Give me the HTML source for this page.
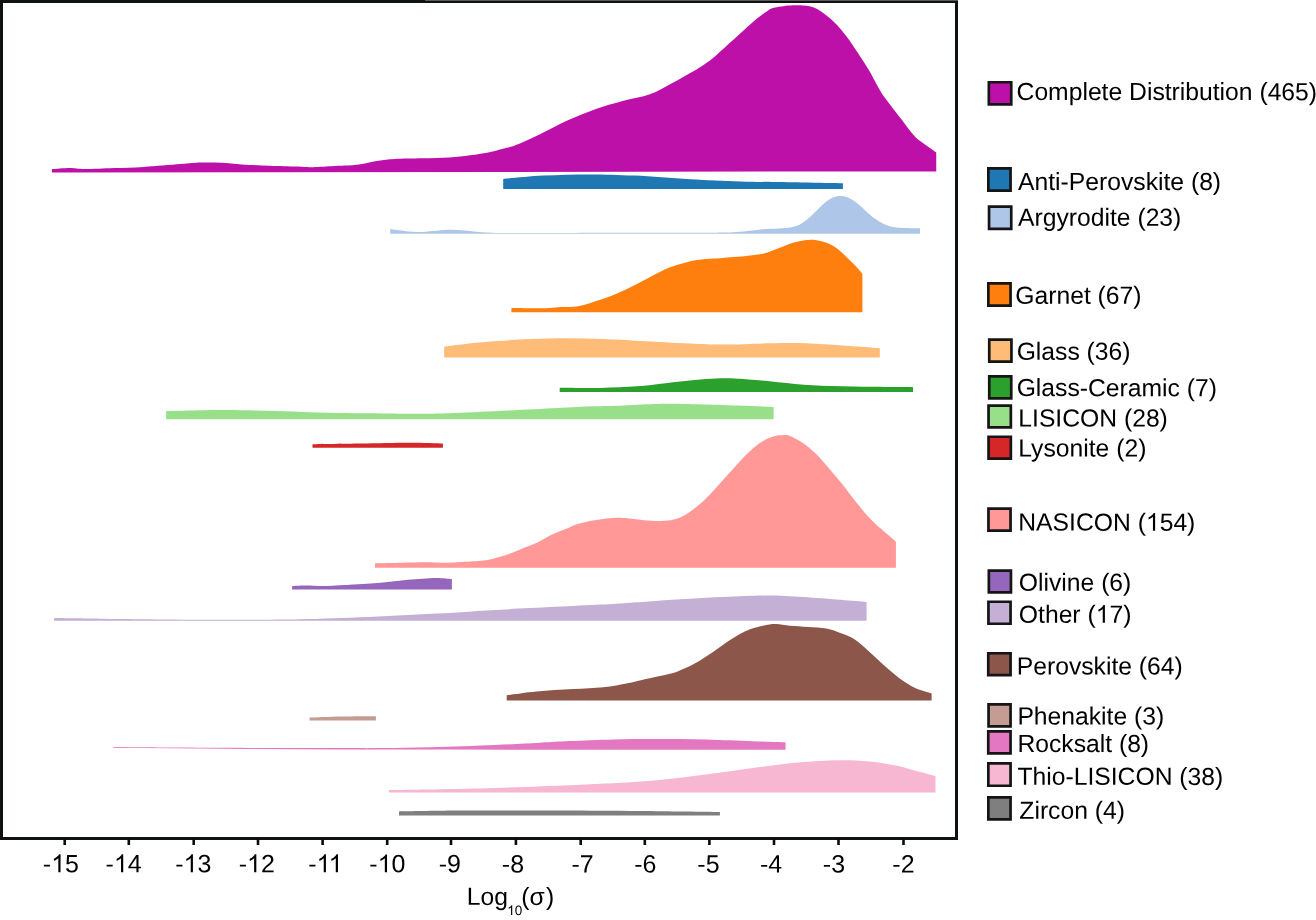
<!DOCTYPE html>
<html><head><meta charset="utf-8"><style>
html,body{margin:0;padding:0;background:#fff;}
body{width:1316px;height:920px;overflow:hidden;}
svg{display:block;will-change:transform;}
text{font-family:"Liberation Sans",sans-serif;fill:#000;}
</style></head><body>
<svg width="1316" height="920" viewBox="0 0 1316 920">
<rect width="1316" height="920" fill="#fff"/>
<path fill="#bd10a9" d="M51.90,172.50 L51.90,169.30 C54.87,169.10 64.27,168.13 69.70,168.10 C75.13,168.07 77.10,169.10 84.50,169.10 C91.90,169.10 104.22,168.47 114.10,168.10 C123.98,167.73 132.73,167.57 143.80,166.90 C154.87,166.23 170.97,164.83 180.50,164.10 C190.03,163.37 194.15,162.72 201.00,162.50 C207.85,162.28 214.75,162.48 221.60,162.80 C228.45,163.12 234.13,163.90 242.10,164.40 C250.07,164.90 260.28,165.43 269.40,165.80 C278.52,166.17 289.95,166.37 296.80,166.60 C303.65,166.83 304.80,167.27 310.50,167.20 C316.20,167.13 325.25,166.47 331.00,166.20 C336.75,165.93 340.08,165.93 345.00,165.60 C349.92,165.27 354.95,165.00 360.50,164.20 C366.05,163.40 372.60,161.67 378.30,160.80 C384.00,159.93 387.40,159.42 394.70,159.00 C402.00,158.58 412.98,158.57 422.10,158.30 C431.22,158.03 441.43,157.90 449.40,157.40 C457.37,156.90 463.05,156.22 469.90,155.30 C476.75,154.38 484.33,153.15 490.50,151.90 C496.67,150.65 501.98,149.22 506.90,147.80 C511.82,146.38 514.40,145.72 520.00,143.40 C525.60,141.08 532.52,137.77 540.50,133.90 C548.48,130.03 558.78,124.32 567.90,120.20 C577.02,116.08 586.08,112.40 595.20,109.20 C604.32,106.00 613.48,103.50 622.60,101.00 C631.72,98.50 641.92,97.05 649.90,94.20 C657.88,91.35 664.80,86.87 670.50,83.90 C676.20,80.93 679.18,79.18 684.10,76.40 C689.02,73.62 695.07,70.37 700.00,67.20 C704.93,64.03 709.13,61.08 713.70,57.40 C718.27,53.72 722.85,49.20 727.40,45.10 C731.95,41.00 736.45,36.90 741.00,32.80 C745.55,28.70 750.13,24.25 754.70,20.50 C759.27,16.75 764.98,12.47 768.40,10.30 C771.82,8.13 771.10,8.35 775.20,7.50 C779.30,6.65 787.30,5.42 793.00,5.20 C798.70,4.98 804.83,5.25 809.40,6.20 C813.97,7.15 816.30,8.28 820.40,10.90 C824.50,13.52 829.67,17.68 834.00,21.90 C838.33,26.12 842.52,31.18 846.40,36.20 C850.28,41.22 853.62,46.45 857.30,52.00 C860.98,57.55 865.55,64.62 868.50,69.50 C871.45,74.38 872.88,77.42 875.00,81.25 C877.12,85.08 879.17,89.17 881.25,92.50 C883.33,95.83 884.38,97.08 887.50,101.25 C890.62,105.42 895.83,112.08 900.00,117.50 C904.17,122.92 909.38,130.00 912.50,133.75 C915.62,137.50 916.25,137.92 918.75,140.00 C921.25,142.08 924.58,144.17 927.50,146.25 C930.42,148.33 934.79,151.46 936.25,152.50 L936.25,171.40 Z"/>
<path fill="#1f77b4" d="M503.20,188.90 L503.20,179.00 C509.87,178.43 528.68,176.37 543.20,175.60 C557.72,174.83 575.10,174.40 590.30,174.40 C605.50,174.40 617.78,174.78 634.40,175.60 C651.02,176.42 672.27,178.33 690.00,179.30 C707.73,180.27 722.20,180.87 740.80,181.40 C759.40,181.93 784.58,182.20 801.60,182.50 C818.62,182.80 836.02,183.08 842.90,183.20 L842.90,188.90 Z"/>
<path fill="#aec7e8" d="M390.20,233.80 L390.20,229.10 C394.58,229.58 406.03,231.90 416.50,232.00 C426.97,232.10 441.35,229.62 453.00,229.70 C464.65,229.78 475.23,231.97 486.40,232.50 C497.57,233.03 484.40,232.85 520.00,232.90 C555.60,232.95 663.92,232.93 700.00,232.80 C736.08,232.67 725.87,232.68 736.50,232.10 C747.13,231.52 754.68,230.10 763.80,229.30 C772.92,228.50 784.20,228.75 791.20,227.30 C798.20,225.85 799.72,225.07 805.80,220.60 C811.88,216.13 821.78,204.62 827.70,200.50 C833.62,196.38 836.75,195.75 841.30,195.90 C845.85,196.05 849.37,197.60 855.00,201.40 C860.63,205.20 868.72,214.43 875.10,218.70 C881.48,222.97 885.82,225.42 893.30,227.00 C900.78,228.58 915.55,228.00 920.00,228.20 L920.00,233.80 Z"/>
<path fill="#ff7f0e" d="M511.40,312.20 L511.40,308.00 C517.10,308.05 537.50,308.45 545.60,308.30 C553.70,308.15 554.57,307.45 560.00,307.10 C565.43,306.75 572.12,307.20 578.20,306.20 C584.28,305.20 590.42,303.07 596.50,301.10 C602.58,299.13 608.62,296.93 614.70,294.40 C620.78,291.87 626.92,288.88 633.00,285.90 C639.08,282.92 645.13,279.55 651.20,276.50 C657.27,273.45 663.32,270.03 669.40,267.60 C675.48,265.17 681.62,263.32 687.70,261.90 C693.78,260.48 700.52,259.70 705.90,259.10 C711.28,258.50 715.98,258.60 720.00,258.30 C724.02,258.00 725.67,257.70 730.00,257.30 C734.33,256.90 740.68,256.43 746.00,255.90 C751.32,255.37 757.47,254.98 761.90,254.10 C766.33,253.22 769.05,251.88 772.60,250.60 C776.15,249.32 779.67,247.73 783.20,246.40 C786.73,245.07 790.25,243.62 793.80,242.60 C797.35,241.58 800.95,240.73 804.50,240.30 C808.05,239.87 811.57,239.62 815.10,240.00 C818.63,240.38 822.15,241.27 825.70,242.60 C829.25,243.93 832.85,245.52 836.40,248.00 C839.95,250.48 843.45,254.13 847.00,257.50 C850.55,260.87 855.13,265.45 857.70,268.20 C860.27,270.95 861.62,273.03 862.40,274.00 L862.40,312.20 Z"/>
<path fill="#ffbb78" d="M444.20,357.40 L444.20,346.40 C450.95,345.65 470.35,343.12 484.70,341.90 C499.05,340.68 516.62,339.72 530.30,339.10 C543.98,338.48 554.63,338.20 566.80,338.20 C578.97,338.20 591.15,338.63 603.30,339.10 C615.45,339.57 625.25,340.27 639.70,341.00 C654.15,341.73 675.98,342.90 690.00,343.50 C704.02,344.10 710.57,344.63 723.80,344.60 C737.03,344.57 755.72,343.52 769.40,343.30 C783.08,343.08 793.73,342.93 805.90,343.30 C818.07,343.67 830.08,344.68 842.40,345.50 C854.72,346.32 873.57,347.75 879.80,348.20 L879.80,357.40 Z"/>
<path fill="#2ca02c" d="M559.70,392.00 L559.70,387.80 C566.50,387.82 587.68,388.15 600.50,387.90 C613.32,387.65 625.77,387.08 636.60,386.30 C647.43,385.52 655.87,384.25 665.50,383.20 C675.13,382.15 685.98,380.80 694.40,380.00 C702.82,379.20 709.23,378.67 716.00,378.40 C722.77,378.13 727.85,378.08 735.00,378.40 C742.15,378.72 748.90,379.38 758.90,380.30 C768.90,381.22 782.97,382.95 795.00,383.90 C807.03,384.85 817.87,385.52 831.10,386.00 C844.33,386.48 860.73,386.60 874.40,386.80 C888.07,387.00 906.65,387.13 913.10,387.20 L913.10,392.00 Z"/>
<path fill="#98df8a" d="M166.20,419.20 L166.20,411.00 C172.43,410.87 191.28,410.33 203.60,410.20 C215.92,410.07 227.93,410.07 240.10,410.20 C252.27,410.33 264.95,410.67 276.60,411.00 C288.25,411.33 298.35,411.87 310.00,412.20 C321.65,412.53 334.33,412.80 346.50,413.00 C358.67,413.20 369.83,413.27 383.00,413.40 C396.17,413.53 413.50,413.85 425.50,413.80 C437.50,413.75 441.15,413.63 455.00,413.10 C468.85,412.57 491.55,411.43 508.60,410.60 C525.65,409.77 543.12,408.82 557.30,408.10 C571.48,407.38 583.25,406.70 593.70,406.30 C604.15,405.90 609.98,406.08 620.00,405.70 C630.02,405.32 644.95,404.33 653.80,404.00 C662.65,403.67 665.57,403.65 673.10,403.70 C680.63,403.75 688.23,403.98 699.00,404.30 C709.77,404.62 725.27,405.15 737.70,405.60 C750.13,406.05 767.62,406.77 773.60,407.00 L773.60,419.20 Z"/>
<path fill="#d62728" d="M312.50,447.80 L312.50,444.20 C320.55,444.08 344.65,443.75 360.80,443.50 C376.95,443.25 395.72,442.70 409.40,442.70 C423.08,442.70 437.32,443.37 442.90,443.50 L442.90,447.80 Z"/>
<path fill="#ff9896" d="M375.00,567.80 L375.00,563.30 C379.73,563.20 395.18,562.88 403.40,562.70 C411.62,562.52 417.32,562.20 424.30,562.20 C431.28,562.20 439.02,562.75 445.30,562.70 C451.58,562.65 455.60,562.27 462.00,561.90 C468.40,561.53 477.80,561.25 483.70,560.50 C489.60,559.75 492.85,558.60 497.40,557.40 C501.95,556.20 506.45,554.93 511.00,553.30 C515.55,551.67 520.13,549.50 524.70,547.60 C529.27,545.70 533.83,544.07 538.40,541.90 C542.97,539.73 547.55,536.73 552.10,534.60 C556.65,532.47 561.45,530.85 565.70,529.10 C569.95,527.35 573.55,525.47 577.60,524.10 C581.65,522.73 586.27,521.68 590.00,520.90 C593.73,520.12 596.17,519.88 600.00,519.40 C603.83,518.92 608.82,518.22 613.00,518.00 C617.18,517.78 620.05,517.73 625.10,518.10 C630.15,518.47 637.22,519.72 643.30,520.20 C649.38,520.68 656.53,521.10 661.60,521.00 C666.67,520.90 669.65,520.68 673.70,519.60 C677.75,518.52 681.42,517.18 685.90,514.50 C690.38,511.82 696.37,507.10 700.60,503.50 C704.83,499.90 707.75,496.62 711.30,492.90 C714.85,489.18 718.35,485.10 721.90,481.20 C725.45,477.30 729.05,473.40 732.60,469.50 C736.15,465.60 739.67,461.43 743.20,457.80 C746.73,454.17 750.25,450.63 753.80,447.70 C757.35,444.77 760.95,442.15 764.50,440.20 C768.05,438.25 772.08,436.83 775.10,436.00 C778.12,435.17 780.12,435.22 782.60,435.20 C785.08,435.18 786.60,434.60 790.00,435.90 C793.40,437.20 798.65,439.97 803.00,443.00 C807.35,446.03 811.75,449.85 816.10,454.10 C820.45,458.35 824.75,463.50 829.10,468.50 C833.45,473.50 837.85,478.67 842.20,484.10 C846.55,489.53 850.85,495.67 855.20,501.10 C859.55,506.53 863.95,512.03 868.30,516.70 C872.65,521.37 876.70,524.97 881.30,529.10 C885.90,533.23 893.47,539.43 895.90,541.50 L895.90,567.80 Z"/>
<path fill="#9467bd" d="M292.10,589.60 L292.10,586.00 C294.33,585.92 299.85,585.50 305.50,585.50 C311.15,585.50 318.02,586.15 326.00,586.00 C333.98,585.85 344.28,585.15 353.40,584.60 C362.52,584.05 371.58,583.50 380.70,582.70 C389.82,581.90 398.97,580.60 408.10,579.80 C417.23,579.00 428.20,578.03 435.50,577.90 C442.80,577.77 449.17,578.82 451.90,579.00 L451.90,589.60 Z"/>
<path fill="#c5b0d5" d="M54.10,620.80 L54.10,618.10 C61.75,618.20 85.35,618.52 100.00,618.70 C114.65,618.88 124.50,619.02 142.00,619.20 C159.50,619.38 187.00,619.72 205.00,619.80 C223.00,619.88 234.17,619.80 250.00,619.70 C265.83,619.60 280.27,619.67 300.00,619.20 C319.73,618.73 345.60,617.85 368.40,616.90 C391.20,615.95 414.00,614.75 436.80,613.50 C459.60,612.25 478.00,610.88 505.20,609.40 C532.40,607.92 574.85,606.02 600.00,604.60 C625.15,603.18 635.73,602.15 656.10,600.90 C676.47,599.65 703.10,597.98 722.20,597.10 C741.30,596.22 756.00,595.52 770.70,595.60 C785.40,595.68 794.42,596.53 810.40,597.60 C826.38,598.67 857.23,601.27 866.60,602.00 L866.60,620.80 Z"/>
<path fill="#8c564b" d="M506.70,700.50 L506.70,695.30 C511.67,694.67 525.45,692.53 536.50,691.50 C547.55,690.47 561.87,689.82 573.00,689.10 C584.13,688.38 594.18,688.18 603.30,687.20 C612.42,686.22 620.60,684.57 627.70,683.20 C634.80,681.83 640.52,680.22 645.90,679.00 C651.28,677.78 654.90,677.08 660.00,675.90 C665.10,674.72 670.72,673.95 676.50,671.90 C682.28,669.85 688.62,666.90 694.70,663.60 C700.78,660.30 706.92,656.15 713.00,652.10 C719.08,648.05 725.13,643.05 731.20,639.30 C737.27,635.55 743.32,632.03 749.40,629.60 C755.48,627.17 763.23,625.62 767.70,624.70 C772.17,623.78 772.48,623.93 776.20,624.10 C779.92,624.27 784.67,625.23 790.00,625.70 C795.33,626.17 802.12,626.45 808.20,626.90 C814.28,627.35 821.02,627.35 826.50,628.40 C831.98,629.45 836.45,631.38 841.10,633.20 C845.75,635.02 849.75,636.25 854.40,639.30 C859.05,642.35 863.93,647.03 869.00,651.50 C874.07,655.97 879.73,661.65 884.80,666.10 C889.87,670.55 894.33,674.55 899.40,678.20 C904.47,681.85 909.83,685.47 915.20,688.00 C920.57,690.53 928.87,692.50 931.60,693.40 L931.60,700.50 Z"/>
<path fill="#c49c94" d="M309.60,720.40 L309.60,717.60 C314.83,717.42 329.95,716.73 341.00,716.50 C352.05,716.27 370.08,716.25 375.90,716.20 L375.90,720.40 Z"/>
<path fill="#e377c2" d="M113,747.0 C122.83,747.08 149.17,747.35 172.00,747.50 C194.83,747.65 222.00,747.80 250.00,747.90 C278.00,748.00 318.33,748.07 340.00,748.10 C361.67,748.13 364.80,748.25 380.00,748.10 C395.20,747.95 412.03,747.72 431.20,747.20 C450.37,746.68 476.87,745.75 495.00,745.00 C513.13,744.25 527.50,743.35 540.00,742.70 C552.50,742.05 557.72,741.65 570.00,741.10 C582.28,740.55 597.68,739.75 613.70,739.40 C629.72,739.05 648.62,738.92 666.10,739.00 C683.58,739.08 702.58,739.48 718.60,739.90 C734.62,740.32 751.05,741.10 762.20,741.50 C773.35,741.90 781.62,742.17 785.50,742.30 L785.5,749.8 L450,749.6 L340,749.5 L250,749.0 L172,748.3 L113,747.7 Z"/>
<path fill="#f7b6d2" d="M388.80,792.50 L388.80,790.20 C399.50,790.02 430.15,789.65 453.00,789.10 C475.85,788.55 504.63,787.63 525.90,786.90 C547.17,786.17 568.25,785.23 580.60,784.70 C592.95,784.17 592.20,784.08 600.00,783.70 C607.80,783.32 618.28,782.92 627.40,782.40 C636.52,781.88 645.58,781.40 654.70,780.60 C663.82,779.80 672.98,778.68 682.10,777.60 C691.22,776.52 700.28,775.32 709.40,774.10 C718.52,772.88 727.68,771.55 736.80,770.30 C745.92,769.05 756.90,767.55 764.10,766.60 C771.30,765.65 773.85,765.32 780.00,764.60 C786.15,763.88 791.12,763.02 801.00,762.30 C810.88,761.58 827.90,760.42 839.30,760.30 C850.70,760.18 859.82,760.70 869.40,761.60 C878.98,762.50 888.82,764.10 896.80,765.70 C904.78,767.30 910.85,769.48 917.30,771.20 C923.75,772.92 932.47,775.20 935.50,776.00 L935.50,792.50 Z"/>
<path fill="#7f7f7f" d="M399.00,815.60 L399.00,811.40 C408.92,811.25 431.67,810.65 458.50,810.50 C485.33,810.35 529.75,810.42 560.00,810.50 C590.25,810.58 613.35,810.75 640.00,811.00 C666.65,811.25 706.58,811.83 719.90,812.00 L719.90,815.60 Z"/>
<!-- frame -->
<rect x="1.5" y="1.5" width="955" height="837" fill="none" stroke="#0f1212" stroke-width="3"/>
<rect x="425" y="0" width="533" height="1" fill="#5a5a5a"/>
<rect x="63.40" y="839" width="2.6" height="6" fill="#0a0c0c"/>
<rect x="127.50" y="839" width="2.6" height="6" fill="#0a0c0c"/>
<rect x="192.40" y="839" width="2.6" height="6" fill="#0a0c0c"/>
<rect x="256.70" y="839" width="2.6" height="6" fill="#0a0c0c"/>
<rect x="321.30" y="839" width="2.6" height="6" fill="#0a0c0c"/>
<rect x="385.90" y="839" width="2.6" height="6" fill="#0a0c0c"/>
<rect x="449.70" y="839" width="2.6" height="6" fill="#0a0c0c"/>
<rect x="514.60" y="839" width="2.6" height="6" fill="#0a0c0c"/>
<rect x="579.40" y="839" width="2.6" height="6" fill="#0a0c0c"/>
<rect x="643.50" y="839" width="2.6" height="6" fill="#0a0c0c"/>
<rect x="708.10" y="839" width="2.6" height="6" fill="#0a0c0c"/>
<rect x="772.70" y="839" width="2.6" height="6" fill="#0a0c0c"/>
<rect x="837.20" y="839" width="2.6" height="6" fill="#0a0c0c"/>
<rect x="902.20" y="839" width="2.6" height="6" fill="#0a0c0c"/>
<g font-size="25.0" transform="matrix(1,0.0005,0,1,0,-0.2400)">
<text x="42.89 65.12" y="872.40" font-size="25.0">-5</text><path fill="#000" transform="translate(51.21,872.40) scale(0.012207,-0.012207)" d="M763,0 L583,0 L583,1147 Q518,1085 412,1023 Q306,961 222,930 L222,1104 Q373,1175 486,1276 Q599,1377 646,1472 L763,1472 Z"/>
<text x="105.59 127.82" y="872.40" font-size="25.0">-4</text><path fill="#000" transform="translate(113.91,872.40) scale(0.012207,-0.012207)" d="M763,0 L583,0 L583,1147 Q518,1085 412,1023 Q306,961 222,930 L222,1104 Q373,1175 486,1276 Q599,1377 646,1472 L763,1472 Z"/>
<text x="175.29 197.52" y="872.40" font-size="25.0">-3</text><path fill="#000" transform="translate(183.61,872.40) scale(0.012207,-0.012207)" d="M763,0 L583,0 L583,1147 Q518,1085 412,1023 Q306,961 222,930 L222,1104 Q373,1175 486,1276 Q599,1377 646,1472 L763,1472 Z"/>
<text x="238.69 260.92" y="872.40" font-size="25.0">-2</text><path fill="#000" transform="translate(247.01,872.40) scale(0.012207,-0.012207)" d="M763,0 L583,0 L583,1147 Q518,1085 412,1023 Q306,961 222,930 L222,1104 Q373,1175 486,1276 Q599,1377 646,1472 L763,1472 Z"/>
<text x="308.29" y="872.40" font-size="25.0">-</text><path fill="#000" transform="translate(316.61,872.40) scale(0.012207,-0.012207)" d="M763,0 L583,0 L583,1147 Q518,1085 412,1023 Q306,961 222,930 L222,1104 Q373,1175 486,1276 Q599,1377 646,1472 L763,1472 Z"/><path fill="#000" transform="translate(328.66,872.40) scale(0.012207,-0.012207)" d="M763,0 L583,0 L583,1147 Q518,1085 412,1023 Q306,961 222,930 L222,1104 Q373,1175 486,1276 Q599,1377 646,1472 L763,1472 Z"/>
<text x="369.39 391.62" y="872.40" font-size="25.0">-0</text><path fill="#000" transform="translate(377.71,872.40) scale(0.012207,-0.012207)" d="M763,0 L583,0 L583,1147 Q518,1085 412,1023 Q306,961 222,930 L222,1104 Q373,1175 486,1276 Q599,1377 646,1472 L763,1472 Z"/>
<text x="438.79" y="872.40" font-size="25.0">-9</text>
<text x="501.89" y="872.40" font-size="25.0">-8</text>
<text x="571.49" y="872.40" font-size="25.0">-7</text>
<text x="634.29" y="872.40" font-size="25.0">-6</text>
<text x="697.39" y="872.40" font-size="25.0">-5</text>
<text x="759.99" y="872.40" font-size="25.0">-4</text>
<text x="822.89" y="872.40" font-size="25.0">-3</text>
<text x="892.39" y="872.40" font-size="25.0">-2</text>
</g>
<g font-size="24.7" transform="matrix(1,0.0005,0,1,0,-0.5085)">
<rect x="988.85" y="82.25" width="22.40" height="22.10" fill="#bd10a9" stroke="#151515" stroke-width="2.7"/>
<text x="1016.56" y="100.00" font-size="24.7">Complete Distribution (465)</text>
<rect x="988.35" y="168.45" width="22.20" height="22.20" fill="#1f77b4" stroke="#151515" stroke-width="2.7"/>
<text x="1018.05" y="189.90" font-size="24.7">Anti-Perovskite (8)</text>
<rect x="989.05" y="206.55" width="22.20" height="22.30" fill="#aec7e8" stroke="#151515" stroke-width="2.7"/>
<text x="1018.05" y="225.80" font-size="24.7">Argyrodite (23)</text>
<rect x="988.35" y="283.45" width="22.20" height="22.20" fill="#ff7f0e" stroke="#151515" stroke-width="2.7"/>
<text x="1015.27" y="303.70" font-size="24.7">Garnet (67)</text>
<rect x="989.25" y="339.55" width="22.20" height="22.00" fill="#ffbb78" stroke="#151515" stroke-width="2.7"/>
<text x="1016.67" y="359.70" font-size="24.7">Glass (36)</text>
<rect x="989.25" y="376.45" width="22.00" height="21.90" fill="#2ca02c" stroke="#151515" stroke-width="2.7"/>
<text x="1016.67" y="396.10" font-size="24.7">Glass-Ceramic (7)</text>
<rect x="988.55" y="405.55" width="22.30" height="21.90" fill="#98df8a" stroke="#151515" stroke-width="2.7"/>
<text x="1018.30" y="426.45" font-size="24.7">LISICON (28)</text>
<rect x="988.55" y="436.75" width="22.30" height="21.90" fill="#d62728" stroke="#151515" stroke-width="2.7"/>
<text x="1018.30" y="456.40" font-size="24.7">Lysonite (2)</text>
<rect x="988.45" y="508.65" width="22.10" height="21.90" fill="#ff9896" stroke="#151515" stroke-width="2.7"/>
<text x="1018.30 1036.14 1052.61 1069.09 1075.95 1093.79 1113.00 1130.84 1137.70 1159.66 1173.40 1187.14" y="530.60" font-size="24.7">NASICON (54)</text><path fill="#000" transform="translate(1145.92,530.60) scale(0.012061,-0.012061)" d="M763,0 L583,0 L583,1147 Q518,1085 412,1023 Q306,961 222,930 L222,1104 Q373,1175 486,1276 Q599,1377 646,1472 L763,1472 Z"/>
<rect x="988.85" y="570.55" width="22.10" height="21.80" fill="#9467bd" stroke="#151515" stroke-width="2.7"/>
<text x="1018.84" y="590.70" font-size="24.7">Olivine (6)</text>
<rect x="988.45" y="601.75" width="22.10" height="22.00" fill="#c5b0d5" stroke="#151515" stroke-width="2.7"/>
<text x="1018.84 1038.05 1044.91 1058.65 1072.39 1080.61 1087.48 1109.44 1123.18" y="622.80" font-size="24.7">Other (7)</text><path fill="#000" transform="translate(1095.70,622.80) scale(0.012061,-0.012061)" d="M763,0 L583,0 L583,1147 Q518,1085 412,1023 Q306,961 222,930 L222,1104 Q373,1175 486,1276 Q599,1377 646,1472 L763,1472 Z"/>
<rect x="988.25" y="653.25" width="22.30" height="21.90" fill="#8c564b" stroke="#151515" stroke-width="2.7"/>
<text x="1016.75" y="674.50" font-size="24.7">Perovskite (64)</text>
<rect x="988.55" y="704.45" width="22.00" height="21.90" fill="#c49c94" stroke="#151515" stroke-width="2.7"/>
<text x="1017.40" y="724.50" font-size="24.7">Phenakite (3)</text>
<rect x="988.25" y="731.35" width="22.30" height="22.00" fill="#e377c2" stroke="#151515" stroke-width="2.7"/>
<text x="1017.40" y="751.90" font-size="24.7">Rocksalt (8)</text>
<rect x="988.35" y="763.45" width="22.20" height="22.30" fill="#f7b6d2" stroke="#151515" stroke-width="2.7"/>
<text x="1017.45" y="784.80" font-size="24.7">Thio-LISICON (38)</text>
<rect x="988.35" y="797.35" width="22.20" height="22.10" fill="#7f7f7f" stroke="#151515" stroke-width="2.7"/>
<text x="1019.33" y="818.70" font-size="24.7">Zircon (4)</text>
</g>
<g transform="matrix(1,0.0005,0,1,0,-0.2550)"><text x="466.70" y="904.90" font-size="24.7">Log</text>
<text x="514.71" y="914.90" font-size="13.5">0</text><path fill="#000" transform="translate(507.20,914.90) scale(0.006592,-0.006592)" d="M763,0 L583,0 L583,1147 Q518,1085 412,1023 Q306,961 222,930 L222,1104 Q373,1175 486,1276 Q599,1377 646,1472 L763,1472 Z"/>
<text x="521.3" y="904.9" font-size="24.7">(σ<tspan dx="1.3">)</tspan></text></g>
</svg>
</body></html>
